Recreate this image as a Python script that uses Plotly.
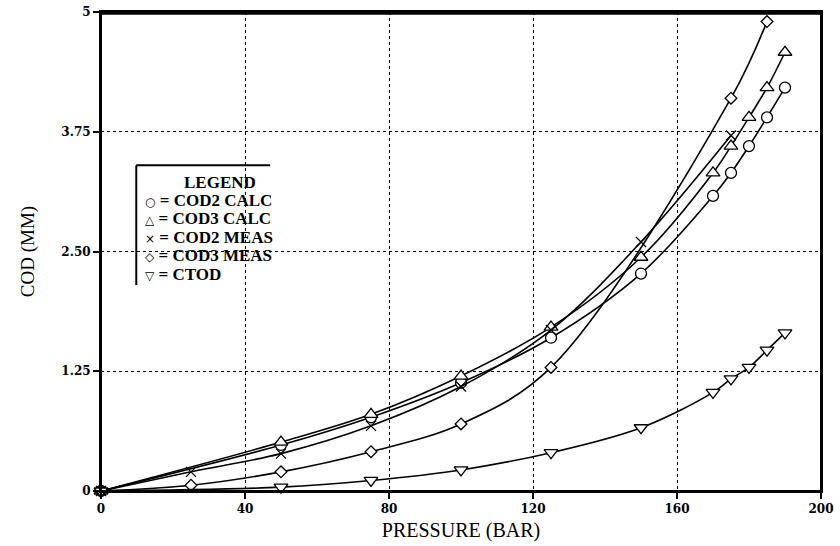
import plotly.graph_objects as go

# ---- data ----
cod2_calc_x = [0, 50, 75, 100, 125, 150, 170, 175, 180, 185, 190]
cod2_calc_y = [0, 0.48, 0.77, 1.13, 1.60, 2.27, 3.08, 3.32, 3.60, 3.90, 4.21]

cod3_calc_x = [0, 50, 75, 100, 125, 150, 170, 175, 180, 185, 190]
cod3_calc_y = [0, 0.51, 0.80, 1.20, 1.71, 2.44, 3.32, 3.60, 3.90, 4.21, 4.58]

cod2_meas_x = [0, 25, 50, 75, 100, 125, 150, 175]
cod2_meas_y = [0, 0.20, 0.39, 0.68, 1.09, 1.68, 2.60, 3.71]

cod3_meas_x = [0, 25, 50, 75, 100, 125, 175, 185]
cod3_meas_y = [0, 0.06, 0.20, 0.41, 0.70, 1.29, 4.10, 4.90]

ctod_x = [0, 50, 75, 100, 125, 150, 170, 175, 180, 185, 190]
ctod_y = [0, 0.04, 0.11, 0.22, 0.40, 0.66, 1.03, 1.17, 1.29, 1.47, 1.65]

x_ticks = [0, 40, 80, 120, 160, 200]
y_ticks = [0, 1.25, 2.5, 3.75, 5]
y_tick_text = ["0", "1.25", "2.50", "3.75", "5"]

legend_title = "LEGEND"
legend_symbols = ["○", "△", "×", "◇", "▽"]
legend_names = ["COD2 CALC", "COD3 CALC", "COD2 MEAS", "COD3 MEAS", "CTOD"]

SERIF = "Liberation Serif"
TICKFONT = "DejaVu Serif"

series = [
    (cod2_calc_x, cod2_calc_y, "circle", 11),
    (cod3_calc_x, cod3_calc_y, "triangle-up", 12),
    (cod2_meas_x, cod2_meas_y, "x-thin", 10),
    (cod3_meas_x, cod3_meas_y, "diamond", 9),
    (ctod_x, ctod_y, "triangle-down", 12),
]

fig = go.Figure()
for xs, ys, sym, sz in series:
    fig.add_trace(go.Scatter(
        x=xs, y=ys, mode="lines+markers",
        line=dict(color="black", width=1.6, shape="spline", smoothing=1.0),
        marker=dict(symbol=sym, size=sz, color="white",
                    line=dict(color="black", width=1.3)),
        showlegend=False, cliponaxis=False,
    ))

common = dict(
    showline=True, linecolor="black", linewidth=2, mirror=True,
    ticks="outside", ticklen=6, tickwidth=1.5, tickcolor="black",
    showgrid=True, gridcolor="black", gridwidth=1, griddash="dot",
    zeroline=False, automargin=False, ticklabeloverflow="allow",
    tickfont=dict(family=TICKFONT, size=12, color="black", weight="bold"),
)
fig.update_xaxes(
    range=[0, 200], tickvals=x_ticks, ticktext=[str(v) for v in x_ticks],
    title=dict(text="PRESSURE (BAR)", standoff=8,
               font=dict(family=SERIF, size=20, color="black")),
    **common,
)
fig.update_yaxes(
    range=[0, 5], tickvals=y_ticks, ticktext=y_tick_text,
    title=dict(text="COD (MM)", standoff=22,
               font=dict(family=SERIF, size=19, color="black")),
    **common,
)

# plot frame
fig.add_shape(type="rect", xref="paper", yref="paper",
              x0=0, x1=1, y0=0, y1=1, layer="above",
              line=dict(color="black", width=2))
fig.add_shape(type="line", xref="paper", yref="paper",
              x0=-0.002, x1=1.002, y0=0.997, y1=0.997, layer="above",
              line=dict(color="black", width=2.5))

# legend box (top and left edges visible, as in the scan)
fig.add_shape(type="line", xref="paper", yref="paper",
              x0=0.049, x1=0.235, y0=0.680, y1=0.680,
              line=dict(color="black", width=2))
fig.add_shape(type="line", xref="paper", yref="paper",
              x0=0.049, x1=0.049, y0=0.680, y1=0.43,
              line=dict(color="black", width=2))

line_y0 = 0.645
dy = 0.0385
fig.add_annotation(xref="paper", yref="paper", x=0.165, y=line_y0,
                   text="<b>" + legend_title + "</b>", showarrow=False,
                   font=dict(family=SERIF, size=17, color="black"),
                   xanchor="center", yanchor="middle")
for i, (s, n) in enumerate(zip(legend_symbols, legend_names)):
    txt = ("<span style='font-family:DejaVu Sans;font-size:12px'>" + s +
           "</span><b> = " + n + "</b>")
    fig.add_annotation(xref="paper", yref="paper", x=0.058,
                       y=line_y0 - dy * (i + 1),
                       text=txt, showarrow=False,
                       font=dict(family=SERIF, size=17, color="black"),
                       xanchor="left", yanchor="middle")

fig.update_layout(
    width=840, height=546,
    margin=dict(l=101, r=19, t=12, b=55, autoexpand=False),
    paper_bgcolor="white", plot_bgcolor="white",
)

fig.write_html("out.html", config={"displayModeBar": False},
               post_script="document.body.style.margin='0';"
                           "document.body.style.overflow='hidden';")
